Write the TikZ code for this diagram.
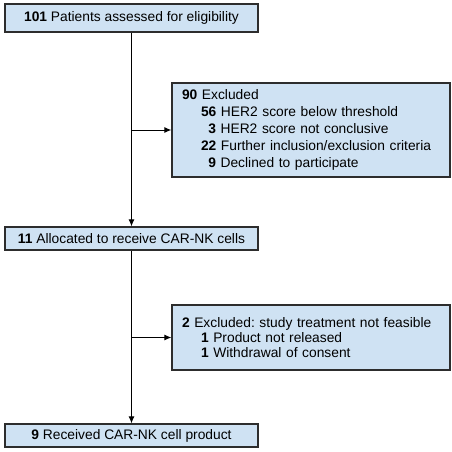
\documentclass[tikz,border=0pt]{standalone}
\usepackage{fontspec}
\setmainfont{Liberation Sans}
\usetikzlibrary{arrows.meta}
\definecolor{boxblue}{RGB}{207,226,243}
\definecolor{boxline}{RGB}{45,45,45}
\frenchspacing
% right aligned count in the sub lists
\newcommand{\cnt}[1]{\hspace*{19pt}\makebox[15pt][r]{\textbf{#1}}}
\newcommand{\cntl}[1]{\hspace*{19pt}\textbf{#1}}

\begin{document}
\begin{tikzpicture}[x=1pt,y=-1pt,
    flowbox/.style={draw=boxline,fill=boxblue,line width=1.2pt,inner sep=0pt,
      font=\fontsize{13.8}{16}\selectfont},
    mainbox/.style={flowbox,minimum width=253pt,align=center},
    sidebox/.style={flowbox,text width=258pt,inner xsep=10pt,align=left},
    flowarrow/.style={-{Latex[length=7pt,width=6pt]},line width=1pt,black}]

  % white background that fixes the margins
  \useasboundingbox (0,0) rectangle (451,452);

  % boxes of the main column
  \node [mainbox,minimum height=28pt] (assessed) at (131.5,18)
    {\textbf{101} Patients assessed for eligibility};
  \node [mainbox,minimum height=23pt] (allocated) at (131.5,238.5)
    {\textbf{11} Allocated to receive CAR-NK cells};
  \node [mainbox,minimum height=23pt] (received) at (131.5,435.5)
    {\textbf{9} Received CAR-NK cell product};

  % boxes on the side
  \node [sidebox,minimum height=94pt,font=\fontsize{13.8}{16.9}\selectfont]
    (excluded) at (311,130)
    {\textbf{90} Excluded\\
     \cntl{56} HER2 score below threshold\\
     \cnt{3} HER2 score not conclusive\\
     \cntl{22} Further inclusion/exclusion criteria\\
     \cnt{9} Declined to participate};
  \node [sidebox,minimum height=65pt,font=\fontsize{13.8}{15.3}\selectfont]
    (notfeasible) at (311,337.5)
    {\textbf{2} Excluded: study treatment not feasible\\
     \cntl{1} Product not released\\
     \cntl{1} Withdrawal of consent};

  % connectors
  \draw [flowarrow] (assessed.south) -- (allocated.north);
  \draw [flowarrow] (assessed.south |- excluded.west) -- (excluded.west);
  \draw [flowarrow] (allocated.south) -- (received.north);
  \draw [flowarrow] (allocated.south |- notfeasible.west) -- (notfeasible.west);

\end{tikzpicture}
\end{document}
